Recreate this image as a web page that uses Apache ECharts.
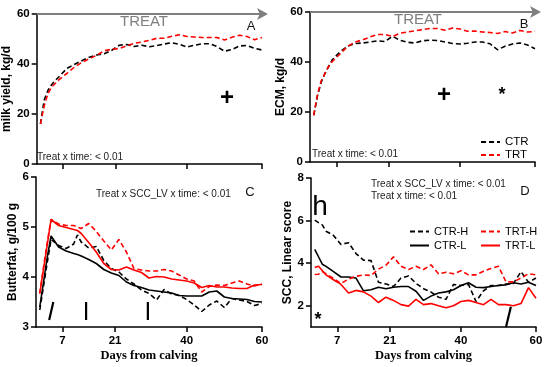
<!DOCTYPE html>
<html><head><meta charset="utf-8">
<script src="https://cdn.jsdelivr.net/npm/echarts@6/dist/echarts.min.js"></script>
<style>html,body{margin:0;padding:0;background:#fff}#c{width:550px;height:367px}</style>
</head><body><div id="c"></div>
<script>
// ---- data ----
const daysAB = [1,2,3,4,5,6,8,10,12,14,16,18,20,22,24,26,28,30,32,34,36,38,40,42,44,46,48,50,52,54,56,58,60];
const milkCTR = [16,25.6,29.5,31.8,33.5,35.0,38.2,39.8,41.3,42.7,43.6,44.1,45.5,47.5,47.8,47.0,47.5,46.9,47.4,48.0,48.5,47.9,46.8,47.5,48.1,48.1,47.0,45.1,45.8,47.2,47.4,46.3,45.6];
const milkTRT = [16,23.3,28.2,30.8,32.3,33.8,36.2,38.7,40.6,42.1,43.5,45.3,45.9,46.2,47.3,48.3,48.8,49.5,50.3,50.3,51.1,51.7,51.0,50.8,50.6,50.6,50.6,49.6,50.7,51.5,51.0,49.7,50.6];
const ecmCTR = [18.7,26.5,32,35.5,38.3,41,44,46.3,47.4,47.6,48.0,48.5,48.2,50.3,48.7,47.9,47.6,48.5,48.7,48.6,48.0,47.4,47.2,47.5,48.0,48.0,47.3,44.9,46.3,47.2,47.6,46.8,45.3];
const ecmTRT = [18.7,27,32.5,35.5,38.3,40.3,43.2,46.2,48.0,48.8,50.0,51.0,51.0,50.2,51.5,52.0,52.5,53.0,53.4,53.4,52.7,53.6,53.2,52.3,52.4,52.0,51.8,51.4,52.2,51.6,52.6,52.0,52.2];

const daysC = [1,2,3,4,6,8,10,11,12,14,16,18,20,22,24,26,28,30,32,34,36,38,40,42,44,46,48,50,52,54,56,58,60];
const fatCTRH = [3.34,3.82,4.3,4.75,4.63,4.57,4.66,4.84,4.7,4.58,4.61,4.33,4.17,4.1,3.96,3.86,3.74,3.67,3.54,3.75,3.66,3.63,3.55,3.44,3.31,3.44,3.52,3.39,3.57,3.54,3.51,3.43,3.47];
const fatCTRL = [3.4,3.9,4.4,4.82,4.6,4.52,4.47,4.45,4.42,4.35,4.27,4.15,4.08,4.03,3.9,3.83,3.79,3.74,3.72,3.7,3.68,3.63,3.62,3.62,3.62,3.7,3.72,3.6,3.57,3.56,3.55,3.51,3.5];
const fatTRTH = [3.67,4.2,4.7,5.15,5.06,5.03,5.03,5.0,4.97,5.07,4.91,4.72,4.54,4.75,4.5,4.17,4.14,4.12,4.12,4.15,4.12,4.04,3.96,3.92,3.70,3.81,3.84,3.83,3.88,3.92,3.86,3.82,3.86];
const fatTRTL = [3.67,4.16,4.65,5.15,5.03,4.99,4.95,4.93,4.87,4.69,4.5,4.27,4.15,4.14,4.2,4.14,4.09,3.98,4.01,4.0,3.96,3.94,3.92,3.88,3.79,3.83,3.8,3.8,3.78,3.77,3.77,3.84,3.85];

const daysD = [1,2,3,4,6,8,10,12,14,16,18,20,22,24,26,28,30,32,34,36,38,40,42,44,46,48,50,52,54,56,58,60];
const sccCTRH = [6.02,5.9,5.8,5.5,5.3,4.88,4.96,4.45,4.14,4.12,3.1,3.02,2.9,3.3,3.4,3.05,2.8,2.64,2.4,2.3,3.0,2.95,3.0,2.2,2.7,2.95,2.95,3.02,3.05,3.6,3.1,3.3];
const sccCTRL = [4.65,4.3,3.95,3.85,3.6,3.35,3.35,3.3,2.7,2.75,2.87,2.8,2.87,2.9,2.9,2.68,2.25,2.45,2.6,2.65,2.75,2.95,3.08,2.87,2.85,2.9,2.95,2.98,3.08,3.02,3.1,2.95];
const sccTRTH = [3.47,3.48,3.6,3.5,3.28,3.05,3.25,3.38,3.45,3.42,3.72,3.9,4.3,3.85,3.7,3.85,3.7,3.92,3.5,3.57,3.5,3.64,3.45,3.45,3.62,3.75,3.85,3.12,3.12,3.3,3.5,3.45];
const sccTRTL = [3.8,3.85,3.65,3.45,3.22,3.0,2.6,2.72,2.65,2.45,2.15,2.4,2.25,2.05,1.98,2.3,2.05,2.1,2.0,1.9,2.0,2.2,2.25,2.15,2.05,2.3,2.05,2.05,2.0,2.1,2.85,2.35];

// annotation strokes (data coordinates)
const marksC = [[[3.5,3.14],[4.6,3.5]],[[13.3,3.14],[13.3,3.5]],[[29.7,3.14],[29.7,3.5]]];
const marksD = [[[52,1.0],[53.3,1.95]]];

const xTicks = [7,21,40,60];
const yTicksD = [2,4,6,8];

// ---- styles ----
const FONT = 'Arial, "Liberation Sans", sans-serif';
const RED = '#ff0000';
const BLACK = '#000000';
const pair = (xs, ys) => xs.map((d, i) => [d, ys[i]]);

function bottomX(gi, showLabel, name) {
  return {
    type: 'value', gridIndex: gi, min: 0, max: 60,
    axisLine: { show: true, onZero: false, lineStyle: { color: '#000', width: 1.5 } },
    axisTick: { show: true, customValues: xTicks, length: 5, lineStyle: { color: '#000', width: 1.5 } },
    axisLabel: { show: showLabel, customValues: xTicks, margin: 8, color: '#000', fontWeight: 'bold', fontSize: 11.5, fontFamily: FONT },
    splitLine: { show: false },
    name: name || '', nameLocation: 'middle', nameGap: 22,
    nameTextStyle: { fontFamily: '"Liberation Serif", "Times New Roman", serif', fontWeight: 'bold', fontSize: 12.5, color: '#000' }
  };
}
function topArrow(gi) {
  return {
    type: 'value', gridIndex: gi, min: 0, max: 60, position: 'top',
    axisLine: { show: true, onZero: false, lineStyle: { color: '#7f7f7f', width: 2 }, symbol: ['none', 'arrow'], symbolSize: [9, 11], symbolOffset: [0, 6] },
    axisTick: { show: false }, axisLabel: { show: false }, splitLine: { show: false }
  };
}
function yAx(gi, min, max, interval, name, gap, custom) {
  const o = {
    type: 'value', gridIndex: gi, min: min, max: max,
    name: name, nameLocation: 'middle', nameGap: gap,
    nameTextStyle: { fontFamily: FONT, fontWeight: 'bold', fontSize: 12, color: '#000' },
    axisLine: { show: true, lineStyle: { color: '#000', width: 1.5 } },
    axisTick: { show: true, length: 5, lineStyle: { color: '#000', width: 1.5 } },
    axisLabel: { margin: 7, color: '#000', fontWeight: 'bold', fontSize: 11.5, fontFamily: FONT },
    splitLine: { show: false }
  };
  if (custom) { o.axisTick.customValues = custom; o.axisLabel.customValues = custom; }
  else { o.interval = interval; }
  return o;
}
function line(name, gi, xs, ys, color, dashed, w) {
  return {
    type: 'line', name: name, xAxisIndex: gi, yAxisIndex: gi,
    data: pair(xs, ys), showSymbol: false, symbol: 'none', silent: true,
    lineStyle: { color: color, width: w || 1.6, type: dashed ? [5, 3] : 'solid' },
    itemStyle: { color: color }
  };
}
function strokes(arr, gi, xi) {
  return arr.map(seg => ({
    type: 'line', xAxisIndex: xi, yAxisIndex: gi, data: seg, showSymbol: false, symbol: 'none', silent: true,
    lineStyle: { color: '#000', width: 2.2 }
  }));
}
function txt(text, x, y, size, opts) {
  opts = opts || {};
  return {
    type: 'text', x: x, y: y, silent: true,
    style: {
      text: text, fill: opts.color || '#111', align: opts.align || 'center', verticalAlign: 'middle',
      font: (opts.bold ? 'bold ' : '') + size + 'px ' + FONT
    }
  };
}
const legendBase = {
  orient: 'vertical', itemWidth: 19, itemHeight: 8, padding: 0, selectedMode: false,
  itemStyle: { opacity: 0 }
};

const chart = echarts.init(document.getElementById('c'));
chart.setOption({
  animation: false,
  backgroundColor: '#fff',
  grid: [
    { left: 36, top: 14, width: 226, height: 150 },
    { left: 310, top: 12, width: 225, height: 150 },
    { left: 36, top: 177, width: 226, height: 150 },
    { left: 311, top: 178, width: 225, height: 149 }
  ],
  xAxis: [
    bottomX(0, false), bottomX(1, false),
    bottomX(2, true, 'Days from calving'), bottomX(3, true, 'Days from calving'),
    topArrow(0), topArrow(1)
  ],
  yAxis: [
    yAx(0, 0, 60, 20, 'milk yield, kg/d', 20),
    yAx(1, 0, 60, 20, 'ECM, kg/d', 22),
    yAx(2, 3, 6, 1, 'Butterfat, g/100 g', 15),
    yAx(3, 1, 8, null, 'SCC, Linear score', 16, yTicksD)
  ],
  legend: [
    Object.assign({}, legendBase, { data: ['CTR', 'TRT'], left: 480, top: 136, itemGap: 1,
      textStyle: { fontFamily: FONT, fontSize: 11.5, color: '#000' } }),
    Object.assign({}, legendBase, { data: ['CTR-H', 'CTR-L'], left: 409, top: 226, itemGap: 3,
      textStyle: { fontFamily: FONT, fontSize: 11, color: '#000' } }),
    Object.assign({}, legendBase, { data: ['TRT-H', 'TRT-L'], left: 480, top: 226, itemGap: 3,
      textStyle: { fontFamily: FONT, fontSize: 11, color: '#000' } })
  ],
  series: [
    line('CTR', 0, daysAB, milkCTR, BLACK, true),
    line('TRT', 0, daysAB, milkTRT, RED, true),
    line('CTR', 1, daysAB, ecmCTR, BLACK, true),
    line('TRT', 1, daysAB, ecmTRT, RED, true),
    line('CTR-H', 2, daysC, fatCTRH, BLACK, true),
    line('CTR-L', 2, daysC, fatCTRL, BLACK, false),
    line('TRT-H', 2, daysC, fatTRTH, RED, true),
    line('TRT-L', 2, daysC, fatTRTL, RED, false),
    line('CTR-H', 3, daysD, sccCTRH, BLACK, true),
    line('CTR-L', 3, daysD, sccCTRL, BLACK, false),
    line('TRT-H', 3, daysD, sccTRTH, RED, true),
    line('TRT-L', 3, daysD, sccTRTL, RED, false),
    ...strokes(marksC, 2, 2),
    ...strokes(marksD, 3, 3)
  ],
  graphic: [
    txt('TREAT', 144, 21.5, 15, { color: '#7f7f7f' }),
    txt('A', 251, 26, 13),
    txt('+', 227, 98, 24, { bold: true, color: '#000' }),
    txt('Treat x time: < 0.01', 37, 157, 10, { align: 'left', color: '#222' }),
    txt('TREAT', 418, 19.5, 15, { color: '#7f7f7f' }),
    txt('B', 524, 24, 13),
    txt('+', 444, 95, 24, { bold: true, color: '#000' }),
    txt('*', 502, 95, 18, { bold: true, color: '#000' }),
    txt('Treat x time: < 0.01', 312, 154, 10, { align: 'left', color: '#222' }),
    txt('Treat x SCC_LV x time: < 0.01', 96, 194, 10, { align: 'left', color: '#222' }),
    txt('C', 250, 192, 13),
    txt('Treat x SCC_LV x time: < 0.01', 371, 184, 10, { align: 'left', color: '#222' }),
    txt('Treat x time: < 0.01', 371, 196, 10, { align: 'left', color: '#222' }),
    txt('D', 525, 191, 13),
    txt('h', 320, 207, 28, { color: '#000' }),
    txt('*', 318, 320, 18, { bold: true, color: '#000' })
  ]
});
</script></body></html>
